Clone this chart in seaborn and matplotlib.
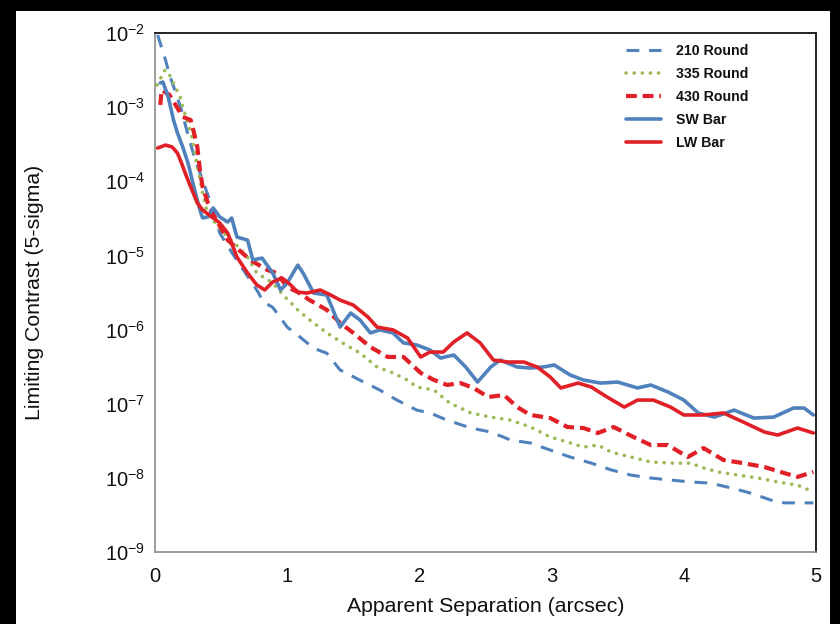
import numpy as np
import pandas as pd
import matplotlib
matplotlib.use("Agg")
import matplotlib.pyplot as plt
import seaborn as sns
from matplotlib.patches import Rectangle
from matplotlib.ticker import FixedLocator

# ---------------- data ----------------
r210_x = [0.02, 0.08, 0.11, 0.15, 0.20, 0.25, 0.30, 0.40, 0.49, 0.58, 0.78, 0.82, 0.89, 1.00,
          1.08, 1.20, 1.30, 1.40, 1.55, 1.70, 1.83, 1.98, 2.08, 2.21, 2.39, 2.54, 2.69, 2.84,
          2.99, 3.14, 3.30, 3.45, 3.60, 3.75, 3.90, 4.05, 4.20, 4.36, 4.51, 4.66, 4.76, 4.98]
r210_y = [9.4e-3, 4.3e-3, 2.7e-3, 1.7e-3, 9.1e-4, 4.2e-4, 2.06e-4, 6.5e-5, 2.0e-5, 1.1e-5, 3.2e-6,
          2.35e-6, 2.0e-6, 1.08e-6, 8.4e-7, 5.6e-7, 4.8e-7, 2.85e-7, 2.08e-7, 1.53e-7, 1.12e-7,
          8.2e-8, 7.5e-8, 6.0e-8, 4.7e-8, 4.15e-8, 3.24e-8, 2.95e-8, 2.37e-8, 1.91e-8, 1.58e-8,
          1.28e-8, 1.09e-8, 9.95e-9, 9.35e-9, 8.8e-9, 8.5e-9, 7.3e-9, 6.2e-9, 5.0e-9, 4.6e-9, 4.6e-9]

r335_x = [0.015, 0.076, 0.11, 0.19, 0.21, 0.25, 0.28, 0.30, 0.33, 0.36, 0.39, 0.45, 0.55, 0.63,
          0.70, 0.77, 0.89, 0.97, 1.08, 1.17, 1.30, 1.42, 1.55, 1.68, 1.80, 1.91, 1.98, 2.11,
          2.23, 2.39, 2.54, 2.69, 2.84, 2.99, 3.12, 3.24, 3.35, 3.45, 3.60, 3.75, 3.90, 4.05,
          4.15, 4.26, 4.41, 4.56, 4.71, 4.86, 4.98]
r335_y = [1.99e-3, 3.17e-3, 2.72e-3, 1.37e-3, 1.0e-3, 6.1e-4, 3.95e-4, 2.4e-4, 1.29e-4, 6.95e-5,
          4.1e-5, 2.82e-5, 1.77e-5, 1.3e-5, 9.5e-6, 5.8e-6, 4.25e-6, 2.92e-6, 1.84e-6, 1.35e-6,
          9.0e-7, 6.6e-7, 4.83e-7, 3.13e-7, 2.6e-7, 2.09e-7, 1.68e-7, 1.53e-7, 1.02e-7, 7.5e-8,
          6.6e-8, 6.0e-8, 4.85e-8, 3.55e-8, 3.04e-8, 2.6e-8, 2.77e-8, 2.23e-8, 1.91e-8, 1.64e-8,
          1.58e-8, 1.58e-8, 1.36e-8, 1.2e-8, 1.09e-8, 9.95e-9, 8.8e-9, 8.0e-9, 6.45e-9]

r430_x = [0.04, 0.05, 0.11, 0.17, 0.21, 0.27, 0.29, 0.32, 0.34, 0.36, 0.40, 0.43, 0.55, 0.72,
          0.85, 0.92, 1.00, 1.08, 1.17, 1.30, 1.40, 1.50, 1.63, 1.76, 1.88, 2.01, 2.11, 2.21,
          2.31, 2.41, 2.52, 2.64, 2.74, 2.84, 2.99, 3.12, 3.24, 3.35, 3.47, 3.62, 3.75, 3.88,
          4.03, 4.15, 4.30, 4.45, 4.61, 4.76, 4.86, 4.98]
r430_y = [1.07e-3, 1.7e-3, 1.46e-3, 9.7e-4, 7.4e-4, 6.7e-4, 4.9e-4, 2.9e-4, 1.42e-4, 8.4e-5,
          5.1e-5, 3.85e-5, 1.61e-5, 8.7e-6, 6.35e-6, 5.8e-6, 3.75e-6, 3.2e-6, 2.5e-6, 1.84e-6,
          1.23e-6, 9.0e-7, 5.8e-7, 4.27e-7, 4.27e-7, 2.6e-7, 2.09e-7, 1.79e-7, 1.9e-7, 1.63e-7,
          1.23e-7, 1.31e-7, 9.0e-8, 7.05e-8, 6.4e-8, 4.85e-8, 4.7e-8, 4.03e-8, 4.85e-8, 3.55e-8,
          2.77e-8, 2.77e-8, 1.91e-8, 2.52e-8, 1.74e-8, 1.58e-8, 1.4e-8, 1.16e-8, 1.03e-8, 1.2e-8]

sw_x = [0.04, 0.06, 0.10, 0.14, 0.17, 0.21, 0.25, 0.30, 0.34, 0.36, 0.40, 0.44, 0.49, 0.55,
        0.58, 0.62, 0.70, 0.74, 0.81, 0.89, 0.95, 1.00, 1.08, 1.12, 1.20, 1.30, 1.40, 1.48,
        1.55, 1.63, 1.70, 1.80, 1.88, 1.98, 2.08, 2.16, 2.26, 2.35, 2.44, 2.54, 2.61, 2.74,
        2.84, 2.94, 3.02, 3.14, 3.24, 3.37, 3.50, 3.65, 3.75, 3.88, 4.00, 4.11, 4.23, 4.38,
        4.53, 4.68, 4.83, 4.91, 4.98]
sw_y = [2.12e-3, 2.18e-3, 1.37e-3, 6.7e-4, 4.48e-4, 2.9e-4, 1.76e-4, 7.6e-5, 4.1e-5, 3.2e-5,
        3.3e-5, 4.36e-5, 3.3e-5, 2.82e-5, 3.2e-5, 1.77e-5, 1.61e-5, 8.7e-6, 9.2e-6, 5.8e-6,
        3.42e-6, 4.25e-6, 7.4e-6, 5.8e-6, 3.11e-6, 2.92e-6, 1.08e-6, 1.67e-6, 1.35e-6, 9.0e-7,
        9.9e-7, 9.0e-7, 6.6e-7, 6.2e-7, 5.3e-7, 4.13e-7, 4.54e-7, 3.13e-7, 1.96e-7, 3.13e-7,
        3.88e-7, 3.13e-7, 3.03e-7, 3.13e-7, 3.33e-7, 2.44e-7, 2.09e-7, 1.9e-7, 1.96e-7, 1.63e-7,
        1.79e-7, 1.44e-7, 1.12e-7, 7.5e-8, 6.6e-8, 8.2e-8, 6.4e-8, 6.6e-8, 8.75e-8, 8.75e-8, 7.05e-8]

lw_x = [0.02, 0.08, 0.13, 0.17, 0.20, 0.24, 0.28, 0.32, 0.36, 0.43, 0.49, 0.55, 0.62, 0.70,
        0.77, 0.83, 0.89, 0.96, 1.01, 1.08, 1.15, 1.25, 1.33, 1.40, 1.50, 1.61, 1.68, 1.80,
        1.91, 2.01, 2.08, 2.18, 2.26, 2.36, 2.46, 2.56, 2.67, 2.79, 2.89, 2.99, 3.07, 3.20,
        3.30, 3.42, 3.55, 3.65, 3.77, 3.90, 4.00, 4.15, 4.30, 4.45, 4.61, 4.71, 4.86, 4.98]
lw_y = [2.81e-4, 3.08e-4, 2.9e-4, 2.4e-4, 1.77e-4, 1.14e-4, 7.6e-5, 5.1e-5, 4.1e-5, 3.3e-5,
        2.74e-5, 2.0e-5, 9.5e-6, 5.8e-6, 4.0e-6, 3.42e-6, 4.38e-6, 4.96e-6, 4.25e-6, 3.2e-6,
        3.11e-6, 3.42e-6, 2.92e-6, 2.5e-6, 2.14e-6, 1.48e-6, 1.08e-6, 9.9e-7, 7.7e-7, 4.27e-7,
        4.98e-7, 4.98e-7, 6.8e-7, 9.0e-7, 6.6e-7, 3.88e-7, 3.65e-7, 3.65e-7, 3.13e-7, 2.29e-7,
        1.63e-7, 1.9e-7, 1.68e-7, 1.23e-7, 9.0e-8, 1.12e-7, 1.12e-7, 9.0e-8, 7.05e-8, 7.05e-8,
        7.5e-8, 5.66e-8, 4.15e-8, 3.78e-8, 4.7e-8, 4.03e-8]

series_names = ["210 Round", "335 Round", "430 Round", "SW Bar", "LW Bar"]
x_ticks = [0, 1, 2, 3, 4, 5]
y_exponents = [-9, -8, -7, -6, -5, -4, -3, -2]

# ---------------- styling ----------------
sns.set_theme(style="white")
plt.rcParams["font.family"] = ["Liberation Sans", "DejaVu Sans"]
plt.rcParams["mathtext.fontset"] = "custom"
plt.rcParams["mathtext.rm"] = "Liberation Sans"
plt.rcParams["mathtext.it"] = "Liberation Sans"
plt.rcParams["mathtext.default"] = "regular"

BLUE = "#4F81BD"
GREEN = "#9BBB59"
RED = "#E11F27"

fig = plt.figure(figsize=(8.4, 6.24), dpi=100, facecolor="black")
fig.patches.append(Rectangle((16 / 840, 0), (830 - 16) / 840, (624 - 11) / 624,
                             transform=fig.transFigure, facecolor="white",
                             edgecolor="none", zorder=-10))
ax = fig.add_axes([155 / 840, 1 - 552 / 624, (816 - 155) / 840, (552 - 33) / 624])
ax.set_zorder(5)
ax.set_facecolor("white")

styles = [
    (r210_x, r210_y, BLUE, 2.2, (4.2, 3.2), "butt"),
    (r335_x, r335_y, GREEN, 2.6, (0.05, 2.2), "round"),
    (r430_x, r430_y, RED, 3.0, (2.6, 1.4), "butt"),
    (sw_x, sw_y, BLUE, 2.6, None, "round"),
    (lw_x, lw_y, RED, 2.6, None, "round"),
]

for name, (xs, ys, col, lw, dash, cap) in zip(series_names, styles):
    df = pd.DataFrame({"x": xs, "y": ys})
    sns.lineplot(data=df, x="x", y="y", ax=ax, color=col, linewidth=lw,
                 label=name, sort=False, estimator=None)
    line = ax.get_lines()[-1]
    if dash is not None:
        line.set_dashes(dash)
        line.set_dash_capstyle(cap)
    line.set_solid_joinstyle("round")
    line.set_solid_capstyle("round")

ax.set_yscale("log")
ax.set_xlim(0, 5)
ax.set_ylim(1e-9, 1e-2)
ax.xaxis.set_major_locator(FixedLocator(x_ticks))
ax.set_xticklabels([str(t) for t in x_ticks])
ax.yaxis.set_major_locator(FixedLocator([10.0 ** e for e in y_exponents]))
ax.set_yticklabels([r"$10^{%d}$" % e for e in y_exponents])
ax.yaxis.set_minor_locator(FixedLocator([]))

ax.tick_params(axis="both", which="major", direction="out", length=5, width=1,
               color="#8c8c8c", labelsize=14.5, labelcolor="#111111")
ax.tick_params(axis="y", pad=2)
ax.tick_params(axis="x", pad=6)

for side in ["left", "bottom"]:
    ax.spines[side].set_color("#8c8c8c")
    ax.spines[side].set_linewidth(1.2)
for side in ["top", "right"]:
    ax.spines[side].set_color("#222222")
    ax.spines[side].set_linewidth(1.4)

ax.set_xlabel("Apparent Separation (arcsec)", fontsize=15.3, color="#111111")
ax.set_ylabel("Limiting Contrast (5-sigma)", fontsize=15.3, color="#111111")
ax.xaxis.set_label_coords(0.5, -(597 - 552) / 519)
ax.yaxis.set_label_coords(-(155 - 44) / 661, 0.5)

leg = ax.legend(loc="upper left", bbox_to_anchor=(0.704, 0.990), frameon=False,
                prop={"weight": "bold", "size": 10.2}, handlelength=2.5,
                labelspacing=0.64, handletextpad=1.0, borderaxespad=0.0)
for t in leg.get_texts():
    t.set_color("#111111")

fig.savefig("out.png", dpi=100, facecolor=fig.get_facecolor())
